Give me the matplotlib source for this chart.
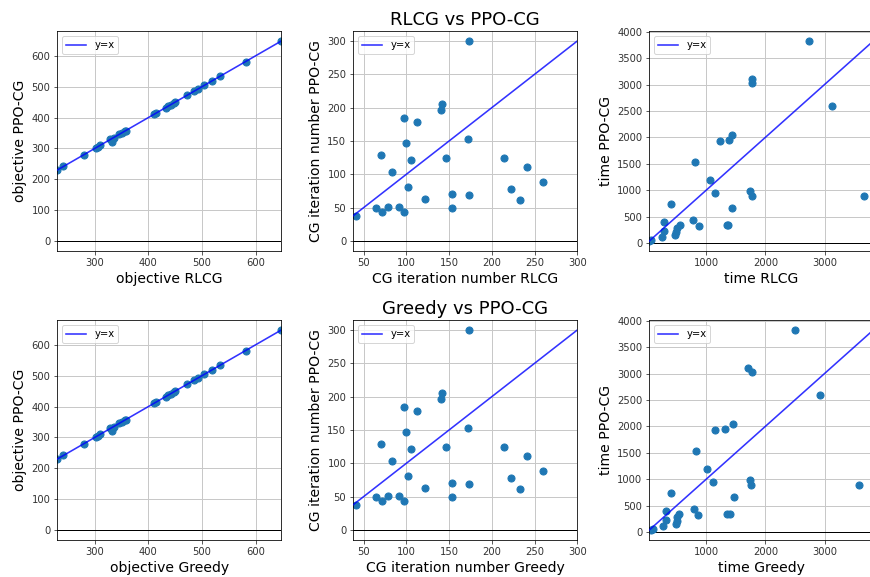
import matplotlib
matplotlib.use("Agg")
import matplotlib.pyplot as plt

# Objective values per instance
obj_rlcg = [230, 241, 279, 302, 306, 310, 328, 333, 336, 346, 351, 356, 359, 411,
            415, 432, 437, 442, 447, 450, 472, 486, 493, 504, 518, 533, 582, 648]
obj_ppo = [230, 242, 278, 302, 305, 311, 329, 320, 334, 347, 350, 355, 358, 412,
           414, 431, 436, 441, 446, 450, 472, 487, 492, 505, 518, 533, 581, 648]
obj_greedy = list(obj_rlcg)

# Column-generation iteration counts per instance
iter_rlcg = [41, 65, 72, 79, 91, 97, 70, 83, 97, 100, 102, 105, 112, 122,
             141, 142, 147, 153, 154, 172, 173, 173, 214, 223, 233, 241, 260]
iter_ppo = [38, 49, 43, 51, 51, 43, 129, 104, 184, 147, 81, 121, 178, 63,
            196, 205, 125, 70, 49, 153, 300, 69, 124, 78, 61, 111, 89]
iter_greedy = list(iter_rlcg)

# Solve times per instance
time_rlcg = [41, 68, 254, 481, 492, 295, 503, 881, 554, 1360, 1372, 295, 780, 1436,
             402, 1769, 3673, 1142, 1741, 1058, 814, 1227, 1385, 1436, 3125, 1775,
             1775, 2736]
time_greedy = [62, 106, 265, 489, 501, 315, 511, 865, 540, 1354, 1400, 315, 798, 1467,
               400, 1759, 3587, 1108, 1737, 1017, 831, 1142, 1315, 1455, 2917, 1766,
               1708, 2501]
time_ppo = [40, 52, 115, 150, 205, 230, 280, 315, 342, 342, 345, 390, 440, 655,
            740, 885, 895, 955, 980, 1190, 1527, 1937, 1945, 2037, 2600, 3020,
            3100, 3823]

plt.rcParams["font.family"] = "DejaVu Sans"

W, H = 870, 577
fig = plt.figure(figsize=(W / 72, H / 72), dpi=72)

col_left = [57.3, 353.3, 649.3]
row_top = [31, 320]
ax_w, ax_h = 224, 220


def make_ax(r, c):
    left = col_left[c] / W
    bottom = (H - row_top[r] - ax_h) / H
    return fig.add_axes([left, bottom, ax_w / W, ax_h / H])


def panel(ax, x, y, xlabel, ylabel):
    lo = min(min(x), min(y))
    hi = max(max(x), max(y))
    ax.scatter(x, y, s=50, color="#1f77b4", zorder=2)
    ax.plot([lo, hi], [lo, hi], color="blue", alpha=0.8, lw=1.6, label="y=x", zorder=3)
    ax.axhline(0, color="black", lw=1, zorder=1.8)
    ax.set_xlim(lo, hi)
    ax.set_axisbelow(True)
    ax.grid(True, color="#c8c8c8", lw=1)
    ax.set_xlabel(xlabel, fontsize=14)
    ax.set_ylabel(ylabel, fontsize=14)
    ax.tick_params(labelsize=10, colors="#333333")
    ax.legend(loc="upper left", fontsize=10)


rows = [
    ("RLCG", obj_rlcg, iter_rlcg, time_rlcg),
    ("Greedy", obj_greedy, iter_greedy, time_greedy),
]

for r, (name, obj_x, iter_x, time_x) in enumerate(rows):
    ax = make_ax(r, 0)
    panel(ax, obj_x, obj_ppo, f"objective {name}", "objective PPO-CG")
    ax = make_ax(r, 1)
    panel(ax, iter_x, iter_ppo, f"CG iteration number {name}", "CG iteration number PPO-CG")
    ax.set_title(f"{name} vs PPO-CG", fontsize=18)
    ax = make_ax(r, 2)
    panel(ax, time_x, time_ppo, f"time {name}", "time PPO-CG")

fig.savefig("out.png", dpi=72)
